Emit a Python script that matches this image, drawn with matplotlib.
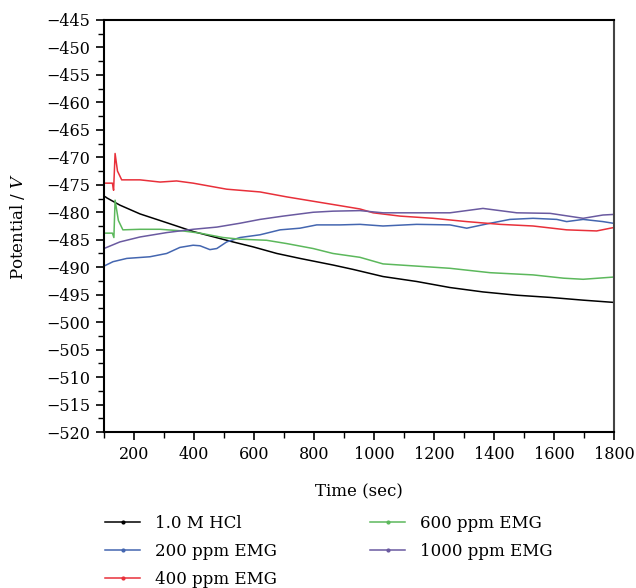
import matplotlib.pyplot as plt
from matplotlib.ticker import MultipleLocator

plt.rcParams['font.family'] = ['DejaVu Serif']
plt.rcParams['mathtext.fontset'] = 'dejavuserif'

# Time (sec) / potential readings for each solution
t_hcl = [105, 110, 153, 220, 309, 397, 453, 530, 597, 676, 753, 863, 930, 1030, 1142, 1253, 1363, 1476, 1587, 1697, 1797]
v_hcl = [-477.2, -477.4, -478.7, -480.3, -481.9, -483.5, -484.3, -485.4, -486.3, -487.5, -488.4, -489.6, -490.4,
         -491.7, -492.6, -493.7, -494.5, -495.1, -495.5, -496.0, -496.4]

t_200 = [100, 130, 176, 253, 309, 353, 397, 420, 453, 476, 509, 553, 620, 687, 753, 809, 887, 953, 1030, 1142,
         1253, 1309, 1387, 1453, 1530, 1609, 1642, 1697, 1763, 1797]
v_200 = [-489.8, -489.0, -488.4, -488.1, -487.5, -486.4, -486.0, -486.1, -486.8, -486.6, -485.4, -484.6, -484.1,
         -483.2, -482.9, -482.3, -482.3, -482.2, -482.5, -482.2, -482.3, -482.9, -482.0, -481.3, -481.1, -481.3,
         -481.7, -481.3, -481.7, -482.0]

t_400 = [100, 128, 132, 137, 145, 159, 220, 287, 342, 397, 509, 620, 709, 809, 887, 953, 997, 1087, 1197, 1309,
         1420, 1530, 1642, 1742, 1797]
v_400 = [-474.7, -474.7, -476.0, -469.3, -472.5, -474.1, -474.1, -474.5, -474.3, -474.7, -475.8, -476.3, -477.2,
         -478.1, -478.8, -479.4, -480.1, -480.7, -481.1, -481.7, -482.2, -482.5, -483.2, -483.4, -482.8]

t_600 = [100, 128, 133, 137, 148, 163, 220, 287, 363, 420, 497, 553, 642, 709, 797, 863, 953, 1030, 1142, 1253,
         1387, 1530, 1632, 1697, 1797]
v_600 = [-483.8, -483.8, -484.6, -477.8, -481.5, -483.2, -483.1, -483.1, -483.4, -483.8, -484.6, -484.9, -485.1,
         -485.7, -486.6, -487.5, -488.2, -489.4, -489.8, -490.2, -491.0, -491.4, -492.0, -492.2, -491.8]

t_1000 = [100, 153, 220, 309, 397, 476, 553, 620, 697, 797, 863, 953, 1030, 1142, 1253, 1363, 1476, 1587, 1697,
          1763, 1797]
v_1000 = [-486.6, -485.4, -484.5, -483.7, -483.1, -482.7, -482.0, -481.3, -480.7, -480.0, -479.8, -479.7, -480.1,
          -480.1, -480.1, -479.3, -480.1, -480.2, -481.1, -480.5, -480.4]

fig = plt.figure(figsize=(6.36, 5.88), dpi=100)
ax = fig.add_axes([0.1635, 0.2653, 0.802, 0.7007])

ax.plot(t_hcl, v_hcl, color='black', lw=1.1, label='1.0 M HCl')
ax.plot(t_200, v_200, color='#4466b0', lw=1.1, label='200 ppm EMG')
ax.plot(t_400, v_400, color='#e8303a', lw=1.1, label='400 ppm EMG')
ax.plot(t_600, v_600, color='#5cb85c', lw=1.1, label='600 ppm EMG')
ax.plot(t_1000, v_1000, color='#6a5aa0', lw=1.1, label='1000 ppm EMG')

ax.set_xlim(100, 1800)
ax.set_ylim(-520, -445)
ax.xaxis.set_major_locator(MultipleLocator(200))
ax.xaxis.set_minor_locator(MultipleLocator(100))
ax.yaxis.set_major_locator(MultipleLocator(5))
ax.yaxis.set_minor_locator(MultipleLocator(2.5))
ax.tick_params(which='major', length=6, width=1.2, labelsize=11.5, pad=4)
ax.tick_params(which='minor', length=4, width=1.0)
for s in ['left', 'bottom', 'top']:
    ax.spines[s].set_linewidth(1.5)
ax.spines['right'].set_linewidth(1.5)
ax.spines['right'].set_color('#444444')

ax.set_xlabel('Time (sec)', fontsize=12, labelpad=15)
ax.set_ylabel('Potential / $V$', fontsize=12, labelpad=14)

handles, labels = ax.get_legend_handles_labels()
leg = fig.legend(handles, labels, loc='upper left', bbox_to_anchor=(0.155, 0.135), ncol=2, frameon=False,
                 fontsize=12, handlelength=2.1, handletextpad=0.9, columnspacing=5.6, labelspacing=0.65,
                 borderaxespad=0)
for h in leg.get_lines():
    h.set_marker('.')
    h.set_markersize(4)
    h.set_markevery([1])

fig.savefig('out.png', dpi=100)
